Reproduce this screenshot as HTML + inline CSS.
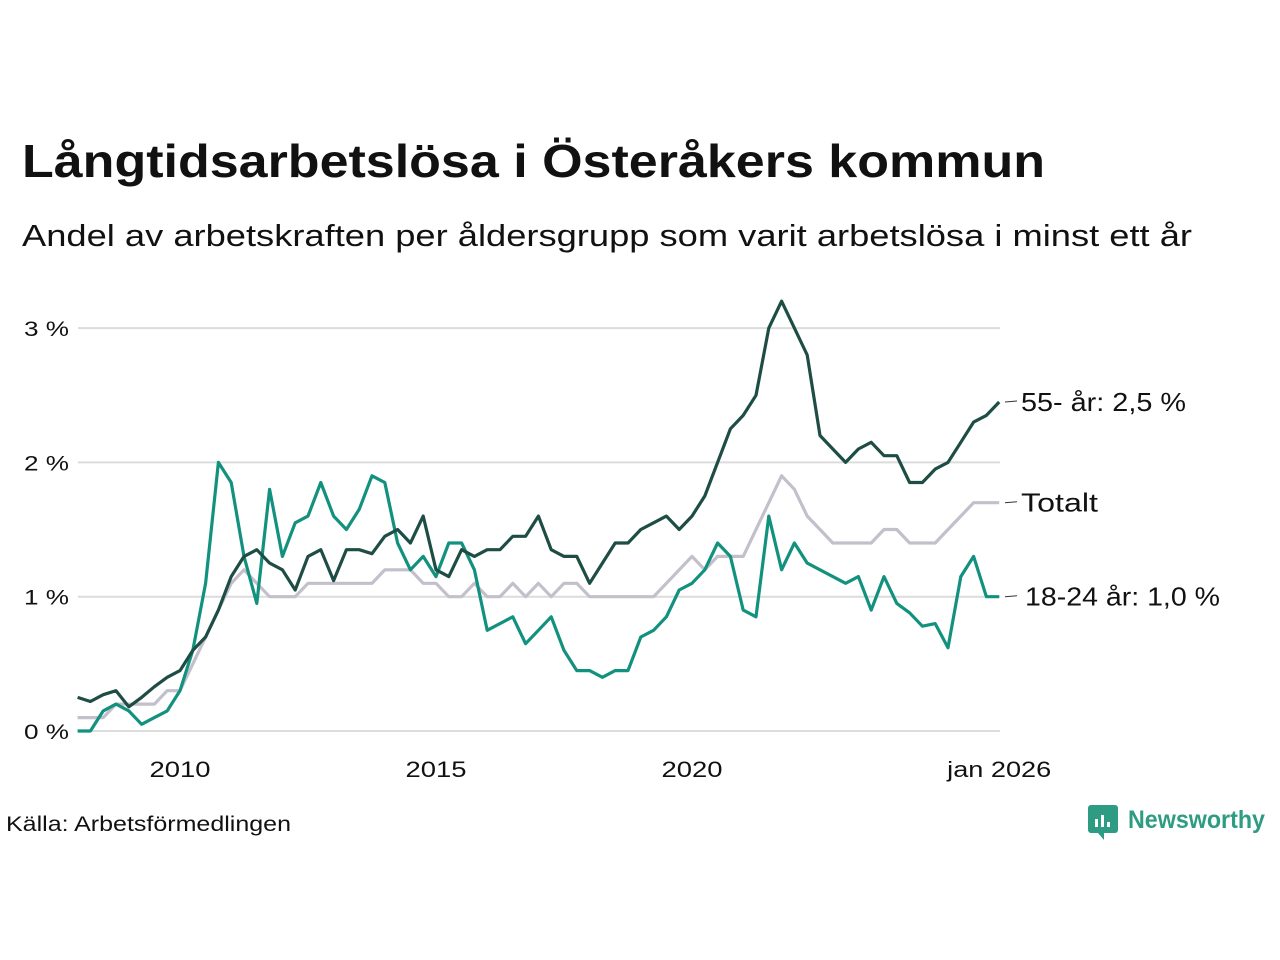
<!DOCTYPE html>
<html><head><meta charset="utf-8"><style>
body{margin:0;background:#fff;font-family:"Liberation Sans","DejaVu Sans",sans-serif;}
#wrap{position:relative;width:1280px;height:960px;overflow:hidden;}
</style></head><body>
<div id="wrap">
<svg id="chart" width="1280" height="960" style="position:absolute;left:0;top:0" font-family="Liberation Sans, DejaVu Sans, sans-serif">
<text x="22" y="177" font-size="46" font-weight="bold" fill="#111" textLength="1023" lengthAdjust="spacingAndGlyphs">Långtidsarbetslösa i Österåkers kommun</text>
<text x="22" y="246" font-size="31" fill="#111" textLength="1170" lengthAdjust="spacingAndGlyphs">Andel av arbetskraften per åldersgrupp som varit arbetslösa i minst ett år</text>
<text x="6" y="831" font-size="21" fill="#111" textLength="285" lengthAdjust="spacingAndGlyphs">Källa: Arbetsförmedlingen</text>
<g transform="translate(1088,805)">
<rect x="0" y="0" width="30" height="28" rx="3" fill="#2e9c82"/><polygon points="10,28 16,35 16,28" fill="#2e9c82"/><rect x="7" y="14" width="3" height="8" fill="#fff"/><rect x="13" y="10" width="3" height="12" fill="#fff"/><rect x="19" y="17" width="3" height="5" fill="#fff"/>
<text x="40" y="23" font-size="25" font-weight="bold" fill="#2e9c82" textLength="137" lengthAdjust="spacingAndGlyphs">Newsworthy</text>
</g>
</svg>
</div>
<script>
const startYear = 2008;
const older = [0.25,0.22,0.27,0.3,0.18,0.25,0.33,0.4,0.45,0.6,0.7,0.9,1.15,1.3,1.35,1.25,1.2,1.05,1.3,1.35,1.12,1.35,1.35,1.32,1.45,1.5,1.4,1.6,1.2,1.15,1.35,1.3,1.35,1.35,1.45,1.45,1.6,1.35,1.3,1.3,1.1,1.25,1.4,1.4,1.5,1.55,1.6,1.5,1.6,1.75,2.0,2.25,2.35,2.5,3.0,3.2,3.0,2.8,2.2,2.1,2.0,2.1,2.15,2.05,2.05,1.85,1.85,1.95,2.0,2.15,2.3,2.35,2.45];
const young = [0,0,0.15,0.2,0.15,0.05,0.1,0.15,0.3,0.6,1.1,2.0,1.85,1.3,0.95,1.8,1.3,1.55,1.6,1.85,1.6,1.5,1.65,1.9,1.85,1.4,1.2,1.3,1.15,1.4,1.4,1.2,0.75,0.8,0.85,0.65,0.75,0.85,0.6,0.45,0.45,0.4,0.45,0.45,0.7,0.75,0.85,1.05,1.1,1.2,1.4,1.3,0.9,0.85,1.6,1.2,1.4,1.25,1.2,1.15,1.1,1.15,0.9,1.15,0.95,0.88,0.78,0.8,0.62,1.15,1.3,1.0,1.0];
const total = [0.1,0.1,0.1,0.2,0.2,0.2,0.2,0.3,0.3,0.5,0.7,0.9,1.1,1.2,1.1,1.0,1.0,1.0,1.1,1.1,1.1,1.1,1.1,1.1,1.2,1.2,1.2,1.1,1.1,1.0,1.0,1.1,1.0,1.0,1.1,1.0,1.1,1.0,1.1,1.1,1.0,1.0,1.0,1.0,1.0,1.0,1.1,1.2,1.3,1.2,1.3,1.3,1.3,1.5,1.7,1.9,1.8,1.6,1.5,1.4,1.4,1.4,1.4,1.5,1.5,1.4,1.4,1.4,1.5,1.6,1.7,1.7,1.7];
const yTicks = [0,1,2,3];
const yTickLabels = ["0 %","1 %","2 %","3 %"];
const xTicks = [2010,2015,2020,2026];
const xTickLabels = ["2010","2015","2020","jan 2026"];
const seriesNames = ["55- år: 2,5 %","Totalt","18-24 år: 1,0 %"];

const svg = document.getElementById('chart');
const NS = 'http://www.w3.org/2000/svg';
const xs = t => 180 + (t - 2010) * 51.2;
const ys = v => 731 - v * 134.3;
function mk(tag, attrs){const e=document.createElementNS(NS,tag);for(const k in attrs)e.setAttribute(k,attrs[k]);svg.appendChild(e);return e;}
yTicks.forEach((v,i)=>{
  const g = mk('line',{x1:78,x2:1000,y1:ys(v),y2:ys(v),stroke:'#dcdcdc','stroke-width':2});
  
  
  const t = mk('text',{x:69,y:ys(v)+8,'text-anchor':'end','font-size':21,fill:'#111',textLength:45,lengthAdjust:'spacingAndGlyphs'});
  t.textContent = yTickLabels[i];
  
  
});
xTicks.forEach((v,i)=>{
  const t = mk('text',{x:xs(v),y:777,'text-anchor':'middle','font-size':22,fill:'#111',textLength:(i===3?104:61),lengthAdjust:'spacingAndGlyphs'});
  t.textContent = xTickLabels[i];
  
  
});
const series = [[total,'#c3bfcb','total-line'],[young,'#13917f','young-line'],[older,'#1e4d45','older-line']];
series.forEach(([d,c,n])=>{
  const pts = d.map((v,i)=>xs(startYear+i*0.25).toFixed(1)+','+ys(v).toFixed(1)).join(' ');
  const p = mk('polyline',{points:pts,fill:'none',stroke:c,'stroke-width':3.2,'stroke-linejoin':'round'});
  
  
});
const ends = [older[older.length-1], total[total.length-1], young[young.length-1]];
const labelW = [165,77,195];
ends.forEach((v,i)=>{
  const y = ys(v);
  const l = mk('line',{x1:1005,x2:1017,y1:y,y2:y-1,stroke:'#333','stroke-width':1});
  
  
  const t = mk('text',{x:(i===2?1025:1021),y:y+9,'font-size':26,fill:'#111',textLength:labelW[i],lengthAdjust:'spacingAndGlyphs'});
  t.textContent = seriesNames[i];
  
  
});
</script>
</body></html>
